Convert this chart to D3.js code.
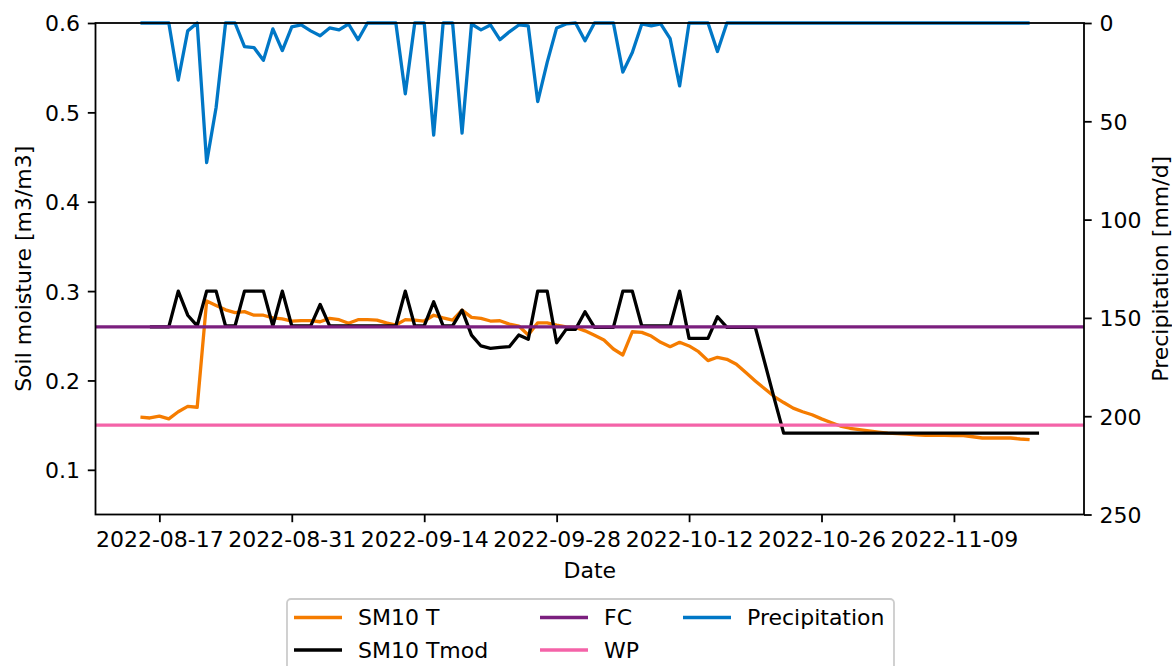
<!DOCTYPE html>
<html>
<head>
<meta charset="utf-8">
<script src="https://cdn.jsdelivr.net/npm/d3@7/dist/d3.min.js"></script>
<style>
  html, body { margin: 0; padding: 0; background: #fff; }
  svg { display: block; }
  text { font-family: "DejaVu Sans", sans-serif; }
</style>
</head>
<body>
<svg id="chart" width="1172" height="666"></svg>
<script>
// ---------------- data ----------------
const startDate = "2022-08-15";          // first day of SM10 T / Precipitation
const tmodStartDate = "2022-08-16";      // first day of SM10 Tmod

const sm10T = [
  0.159, 0.158, 0.160, 0.157, 0.165, 0.171, 0.170, 0.289, 0.284, 0.279,
  0.276, 0.277, 0.273, 0.273, 0.270, 0.269, 0.2665, 0.267, 0.267, 0.2657,
  0.2695, 0.268, 0.264, 0.268, 0.268, 0.2675, 0.2645, 0.262, 0.268, 0.2675,
  0.2665, 0.273, 0.270, 0.2675, 0.2787, 0.2706, 0.2695, 0.2665, 0.2668, 0.263,
  0.2609, 0.2508, 0.2645, 0.2645, 0.262, 0.260, 0.2594, 0.2555, 0.2505, 0.2453,
  0.2352, 0.2285, 0.2545, 0.2538, 0.2497, 0.2427, 0.2378, 0.2427, 0.2386, 0.2322,
  0.2222, 0.2259, 0.2237, 0.2181, 0.2088, 0.1995, 0.1906, 0.182, 0.1753, 0.169,
  0.165, 0.1616, 0.157, 0.153, 0.149, 0.1465, 0.145, 0.1435, 0.1422, 0.141,
  0.1405, 0.140, 0.139, 0.1385, 0.1385, 0.1385, 0.1383, 0.1382, 0.137, 0.1356,
  0.1356, 0.1356, 0.1356, 0.1345, 0.1337
];

const sm10Tmod = [
  0.26, 0.26, 0.26, 0.30, 0.273, 0.261, 0.30, 0.30, 0.261, 0.261,
  0.30, 0.30, 0.30, 0.261, 0.30, 0.261, 0.261, 0.261, 0.285, 0.261,
  0.261, 0.261, 0.261, 0.261, 0.261, 0.261, 0.261, 0.30, 0.261, 0.261,
  0.288, 0.261, 0.261, 0.2787, 0.2508, 0.2386, 0.236, 0.237, 0.2378, 0.2508,
  0.246, 0.30, 0.30, 0.2422, 0.2572, 0.2572, 0.2768, 0.2594, 0.2594, 0.2594,
  0.30, 0.30, 0.261, 0.261, 0.261, 0.261, 0.30, 0.2471, 0.2471, 0.2471,
  0.2713, 0.2594, 0.2594, 0.2594, 0.2594, 0.22, 0.18, 0.141, 0.141, 0.141,
  0.141, 0.141, 0.141, 0.141, 0.141, 0.141, 0.141, 0.141, 0.141, 0.141,
  0.141, 0.141, 0.141, 0.141, 0.141, 0.141, 0.141, 0.141, 0.141, 0.141,
  0.141, 0.141, 0.141, 0.141, 0.141
];

const precipitation = [
  0, 0, 0, 0, 29, 4, 0, 71, 43, 0,
  0, 12, 12.5, 19, 3, 14, 2, 1, 4, 6.5,
  2.5, 3.5, 0.5, 8.5, 0, 0, 0, 0, 36, 0,
  0, 57, 0, 0, 56, 0.5, 3.5, 1, 8.5, 4.5,
  1, 1.5, 40, 20, 2.5, 0.5, 0, 9, 0, 0,
  0, 25, 15, 0.5, 1.5, 0.5, 8, 32, 0, 0,
  0, 14.5, 0, 0, 0, 0, 0, 0, 0, 0,
  0, 0, 0, 0, 0, 0, 0, 0, 0, 0,
  0, 0, 0, 0, 0, 0, 0, 0, 0, 0,
  0, 0, 0, 0, 0
];

const fcValue = 0.26;
const wpValue = 0.15;

const xTickLabels = ["2022-08-17", "2022-08-31", "2022-09-14", "2022-09-28",
                     "2022-10-12", "2022-10-26", "2022-11-09"];
const leftTicks = [0.1, 0.2, 0.3, 0.4, 0.5, 0.6];
const rightTicks = [0, 50, 100, 150, 200, 250];
const seriesNames = ["SM10 T", "SM10 Tmod", "FC", "WP", "Precipitation"];
const seriesColors = ["#f57c00", "#000000", "#7b1f7e", "#f463a8", "#0077c6"];

// ---------------- build ----------------
const parse = d3.utcParse("%Y-%m-%d");
const DAY = 86400000;
const dayAfter = (s, i) => new Date(parse(s).getTime() + i * DAY);

const tData = sm10T.map((v, i) => ({ d: dayAfter(startDate, i), v }));
const pData = precipitation.map((v, i) => ({ d: dayAfter(startDate, i), v }));
const mData = sm10Tmod.map((v, i) => ({ d: dayAfter(tmodStartDate, i), v }));

const L = 95.5, R = 1084, T = 23, B = 514.5;
const svg = d3.select("#chart");
const FS = 22;

const allDates = tData.concat(mData).map(d => d.d);
const [dmin, dmax] = d3.extent(allDates);
const pad = (dmax - dmin) * 0.05;
const x = d3.scaleUtc().domain([new Date(+dmin - pad), new Date(+dmax + pad)]).range([L, R]);
const y = d3.scaleLinear().domain([0.05, 0.6]).range([B, T]);
const yP = d3.scaleLinear().domain([0, 250]).range([T, B]);

const line = d3.line().x(d => x(d.d)).y(d => y(d.v));
const lineP = d3.line().x(d => x(d.d)).y(d => yP(d.v));

const g = svg.append("g");
const lw = 3.3;

g.append("path").datum(tData).attr("d", line)
  .attr("fill", "none").attr("stroke", seriesColors[0]).attr("stroke-width", lw).attr("stroke-linejoin", "round");
g.append("path").datum(mData).attr("d", line)
  .attr("fill", "none").attr("stroke", seriesColors[1]).attr("stroke-width", lw).attr("stroke-linejoin", "round");
g.append("line").attr("x1", L).attr("x2", R).attr("y1", y(fcValue)).attr("y2", y(fcValue))
  .attr("stroke", seriesColors[2]).attr("stroke-width", lw);
g.append("line").attr("x1", L).attr("x2", R).attr("y1", y(wpValue)).attr("y2", y(wpValue))
  .attr("stroke", seriesColors[3]).attr("stroke-width", lw);
g.append("path").datum(pData).attr("d", lineP)
  .attr("fill", "none").attr("stroke", seriesColors[4]).attr("stroke-width", lw).attr("stroke-linejoin", "round");

// axes
function styleAxis(sel) {
  sel.selectAll(".domain").remove();
  sel.selectAll(".tick line").attr("stroke", "#000").attr("stroke-width", 1.8);
  sel.selectAll(".tick text").attr("font-size", FS).attr("fill", "#000")
    .attr("font-family", "DejaVu Sans");
}
const ax = svg.append("g").attr("transform", `translate(0,${B})`)
  .call(d3.axisBottom(x).tickValues(xTickLabels.map(parse)).tickFormat(d3.utcFormat("%Y-%m-%d"))
    .tickSize(7.7).tickPadding(9.5));
styleAxis(ax);

const ayl = svg.append("g").attr("transform", `translate(${L},0)`)
  .call(d3.axisLeft(y).tickValues(leftTicks).tickFormat(d3.format(".1f")).tickSize(7.7).tickPadding(7.7));
styleAxis(ayl);
ayl.selectAll(".tick text").attr("dy", "0.36em");

const ayr = svg.append("g").attr("transform", `translate(${R},0)`)
  .call(d3.axisRight(yP).tickValues(rightTicks).tickFormat(d3.format("d")).tickSize(7.7).tickPadding(7.7));
styleAxis(ayr);
ayr.selectAll(".tick text").attr("dy", "0.36em");

// frame
svg.append("rect").attr("x", L).attr("y", T).attr("width", R - L).attr("height", B - T)
  .attr("fill", "none").attr("stroke", "#000").attr("stroke-width", 1.8);

// axis labels
svg.append("text").attr("x", (L + R) / 2).attr("y", 578).attr("text-anchor", "middle")
  .attr("font-size", FS).text("Date");
svg.append("text").attr("transform", `translate(31,${(T + B) / 2}) rotate(-90)`)
  .attr("text-anchor", "middle").attr("font-size", FS).text("Soil moisture [m3/m3]");
svg.append("text").attr("transform", `translate(1168,${(T + B) / 2}) rotate(-90)`)
  .attr("text-anchor", "middle").attr("font-size", FS).text("Precipitation [mm/d]");

// legend
const lg = svg.append("g");
lg.append("rect").attr("x", 287).attr("y", 599).attr("width", 607).attr("height", 100)
  .attr("rx", 4).attr("fill", "#fff").attr("fill-opacity", 0.8)
  .attr("stroke", "#cccccc").attr("stroke-width", 1.8);
const colX = [294, 540, 683];
const rowY = [617.5, 650];
const entries = [[0, 0], [0, 1], [1, 0], [1, 1], [2, 0]];
seriesNames.forEach((name, i) => {
  const [c, r] = entries[i];
  const lx = colX[c], ly = rowY[r];
  lg.append("line").attr("x1", lx).attr("x2", lx + 48).attr("y1", ly).attr("y2", ly)
    .attr("stroke", seriesColors[i]).attr("stroke-width", lw);
  lg.append("text").attr("x", lx + 64).attr("y", ly).attr("dy", "0.36em")
    .attr("font-size", FS).text(name);
});
</script>
</body>
</html>
